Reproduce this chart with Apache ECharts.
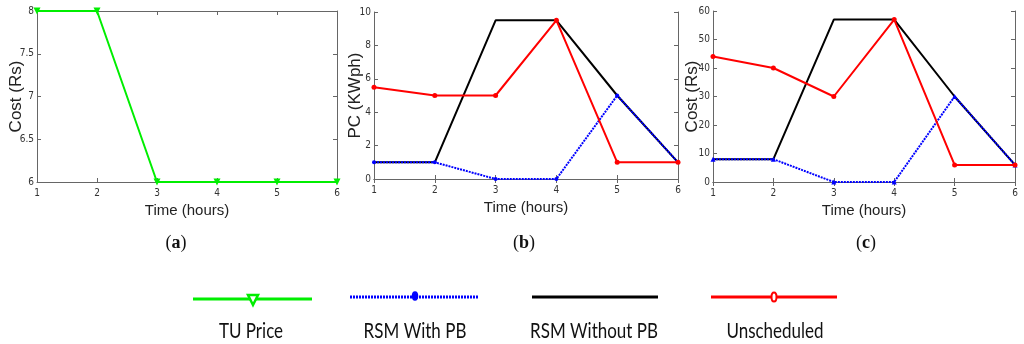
<!DOCTYPE html>
<html>
<head>
<meta charset="utf-8">
<script src="https://cdn.jsdelivr.net/npm/echarts@6/dist/echarts.min.js"></script>
<style>html,body{margin:0;padding:0;background:#fff}#c{width:1024px;height:344px}</style>
</head>
<body>
<div id="c"></div>
<script>
// ---- data ----
var hours = ['1', '2', '3', '4', '5', '6'];
var tuPrice = [8, 8, 6, 6, 6, 6];
var pcWithPB = [1, 1, 0, 0, 5, 1];
var pcWithoutPB = [1, 1, 9.5, 9.5, 5, 1];
var pcUnscheduled = [5.5, 5, 5, 9.5, 1, 1];
var costWithPB = [8, 8, 0, 0, 30, 6];
var costWithoutPB = [8, 8, 57, 57, 30, 6];
var costUnscheduled = [44, 40, 30, 57, 6, 6];
var legendNames = ['TU Price', 'RSM With PB', 'RSM Without PB', 'Unscheduled'];
var captions = ['a', 'b', 'c'];
var yNames = ['Cost (Rs)', 'PC (KWph)', 'Cost (Rs)'];
var xName = 'Time (hours)';

var GREEN = '#00ee00', BLUE = '#0000ff', BLACK = '#000000', RED = '#ff0000';
var AX = '#666666';
var TICKFONT = '"DejaVu Sans Condensed", "Liberation Sans Narrow", "Liberation Sans"';
var grids = [
  {left: 37, top: 11, width: 300, height: 171},
  {left: 374, top: 12, width: 304, height: 167},
  {left: 713, top: 11, width: 302, height: 171}
];
var yRanges = [[6, 8, 0.5], [0, 10, 2], [0, 60, 10]];
var yNameGaps = [12, 10, 12];

var xAxes = [], yAxes = [];
grids.forEach(function (g, i) {
  xAxes.push({
    type: 'category', gridIndex: i, data: hours, boundaryGap: false,
    name: xName, nameLocation: 'middle', nameGap: 21, nameMoveOverlap: false,
    nameTextStyle: {fontFamily: 'Liberation Sans', fontSize: 15, color: '#222'},
    axisLine: {lineStyle: {color: AX, width: 1}},
    axisTick: {inside: true, length: 4, lineStyle: {color: AX}},
    axisLabel: {fontFamily: TICKFONT, fontSize: 10, color: '#333', margin: 6},
    splitLine: {show: false}
  });
  xAxes.push({
    type: 'category', gridIndex: i, data: hours, boundaryGap: false, position: 'top',
    axisLine: {lineStyle: {color: AX, width: 1}},
    axisTick: {inside: true, length: 4, lineStyle: {color: AX}},
    axisLabel: {show: false}, splitLine: {show: false}
  });
  var r = yRanges[i];
  yAxes.push({
    type: 'value', gridIndex: i, min: r[0], max: r[1], interval: r[2],
    name: yNames[i], nameLocation: 'middle', nameGap: yNameGaps[i], nameRotate: 90,
    nameMoveOverlap: false,
    nameTextStyle: {fontFamily: 'Liberation Sans', fontSize: 17, color: '#222'},
    axisLine: {show: true, lineStyle: {color: AX, width: 1}},
    axisTick: {show: true, inside: true, length: 4, lineStyle: {color: AX}},
    axisLabel: {fontFamily: TICKFONT, fontSize: 10, color: '#333', margin: 3},
    splitLine: {show: false}
  });
  yAxes.push({
    type: 'value', gridIndex: i, min: r[0], max: r[1], interval: r[2], position: 'right',
    axisLine: {show: true, lineStyle: {color: AX, width: 1}},
    axisTick: {show: true, inside: true, length: 4, lineStyle: {color: AX}},
    axisLabel: {show: false}, splitLine: {show: false}
  });
});

function line(name, gi, data, color, opts) {
  var s = {
    name: name, type: 'line', xAxisIndex: gi * 2, yAxisIndex: gi * 2, data: data,
    lineStyle: {color: color, width: 2, type: opts.dash || 'solid'},
    itemStyle: {color: color},
    symbol: opts.symbol || 'none', symbolSize: opts.size || 4,
    showSymbol: !!opts.symbol, animation: false, silent: true, z: opts.z || 2
  };
  return s;
}

var series = [
  line(legendNames[0], 0, tuPrice, GREEN, {symbol: 'triangle', size: 7, z: 2}),
  line(legendNames[2], 1, pcWithoutPB, BLACK, {z: 2}),
  line(legendNames[1], 1, pcWithPB, BLUE, {symbol: 'circle', size: 4, dash: [2, 1], z: 3}),
  line(legendNames[3], 1, pcUnscheduled, RED, {symbol: 'circle', size: 5, z: 4}),
  line(legendNames[2], 2, costWithoutPB, BLACK, {z: 2}),
  line(legendNames[1], 2, costWithPB, BLUE, {symbol: 'triangle', size: 5, dash: [2, 1], z: 3}),
  line(legendNames[3], 2, costUnscheduled, RED, {symbol: 'circle', size: 5, z: 4})
];
series[0].symbolRotate = 180;

// legend & captions (graphic)
var legendX = [[193, 312, 253], [350, 478, 415], [532, 658, 595], [711, 837, 774]];
var legendColors = [GREEN, BLUE, BLACK, RED];
var legendTextX = [251, 415, 594, 775];
var graphics = [];
legendX.forEach(function (l, i) {
  graphics.push({
    type: 'line', shape: {x1: l[0], y1: i === 0 ? 299 : 297, x2: l[1], y2: i === 0 ? 299 : 297},
    style: {stroke: legendColors[i], lineWidth: 3, lineDash: i === 1 ? [2, 1] : null}
  });
  graphics.push({
    type: 'text', x: legendTextX[i], y: 331, scaleY: 1.2,
    style: {text: legendNames[i], font: '17px Lato', fill: '#111', align: 'center', verticalAlign: 'middle'}
  });
});
// legend markers
graphics.push({type: 'polygon', shape: {points: [[248, 295], [258, 295], [253, 305]]},
  style: {fill: '#fff', stroke: GREEN, lineWidth: 2.5}});
graphics.push({type: 'ellipse', shape: {cx: 415, cy: 296, rx: 2.5, ry: 4},
  style: {fill: BLUE, stroke: BLUE, lineWidth: 1.5}});
graphics.push({type: 'ellipse', shape: {cx: 774, cy: 297, rx: 2.5, ry: 4.5},
  style: {fill: '#fff', stroke: RED, lineWidth: 2}});
var capX = [176, 524, 866];
captions.forEach(function (c, i) {
  graphics.push({
    type: 'text', x: capX[i], y: 243,
    style: {
      text: '{p|(}{b|' + c + '}{p|)}', align: 'center', verticalAlign: 'middle',
      rich: {
        p: {fontFamily: 'Liberation Serif', fontSize: 18, fill: '#111', color: '#111'},
        b: {fontFamily: 'Liberation Serif', fontSize: 18, fontWeight: 'bold', fill: '#111', color: '#111'}
      }
    }
  });
});

var chart = echarts.init(document.getElementById('c'), null, {renderer: 'canvas'});
chart.setOption({
  animation: false,
  backgroundColor: '#ffffff',
  grid: grids,
  xAxis: xAxes,
  yAxis: yAxes,
  series: series,
  graphic: graphics
});
</script>
</body>
</html>
